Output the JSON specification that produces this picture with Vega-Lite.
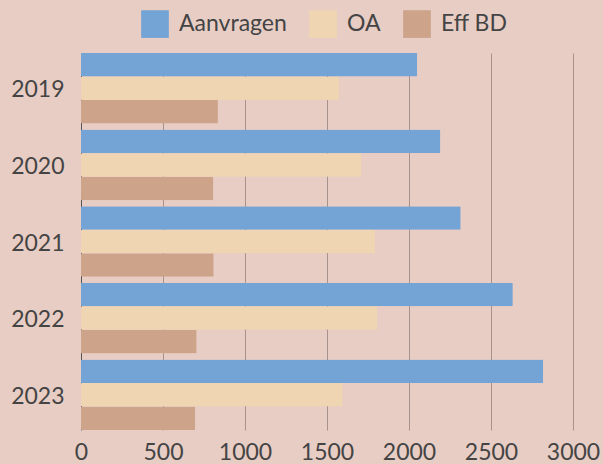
{
  "$schema": "https://vega.github.io/schema/vega-lite/v6.json",
  "width": 492,
  "height": 377,
  "autosize": {"type": "none"},
  "padding": {"left": 81, "top": 53, "right": 30, "bottom": 34},
  "background": "#e8cdc4",
  "config": {
    "view": {"stroke": null},
    "font": "Lato",
    "axis": {"labelFont": "Lato", "labelFontSize": 23, "labelColor": "#444444"},
    "legend": {"labelFont": "Lato"}
  },
  "data": {
    "values": [
      {"year": "2019", "series": "Aanvragen", "value": 2050},
      {"year": "2019", "series": "OA", "value": 1575},
      {"year": "2019", "series": "Eff BD", "value": 835},
      {"year": "2020", "series": "Aanvragen", "value": 2191},
      {"year": "2020", "series": "OA", "value": 1710},
      {"year": "2020", "series": "Eff BD", "value": 807},
      {"year": "2021", "series": "Aanvragen", "value": 2315},
      {"year": "2021", "series": "OA", "value": 1793},
      {"year": "2021", "series": "Eff BD", "value": 809},
      {"year": "2022", "series": "Aanvragen", "value": 2633},
      {"year": "2022", "series": "OA", "value": 1807},
      {"year": "2022", "series": "Eff BD", "value": 705},
      {"year": "2023", "series": "Aanvragen", "value": 2818},
      {"year": "2023", "series": "OA", "value": 1596},
      {"year": "2023", "series": "Eff BD", "value": 696}
    ]
  },
  "mark": {"type": "bar", "cornerRadius": 1},
  "encoding": {
    "y": {
      "field": "year",
      "type": "nominal",
      "scale": {"paddingInner": 0.078, "paddingOuter": 0},
      "axis": {"title": null, "ticks": false, "domain": false, "labelPadding": 17, "labelOffset": 2, "grid": false}
    },
    "yOffset": {
      "field": "series",
      "type": "nominal",
      "sort": ["Aanvragen", "OA", "Eff BD"],
      "scale": {"paddingInner": 0, "paddingOuter": 0}
    },
    "x": {
      "field": "value",
      "type": "quantitative",
      "scale": {"domain": [0, 3000], "nice": false},
      "axis": {
        "title": null,
        "values": [0, 500, 1000, 1500, 2000, 2500, 3000],
        "format": "d",
        "labelFlush": false,
        "labelOverlap": false,
        "ticks": false,
        "domain": false,
        "labelPadding": 11,
        "grid": true,
        "gridColor": {"condition": {"test": "datum.value === 0", "value": "#555555"}, "value": "#a8928d"},
        "gridWidth": 1,
        "gridOpacity": 1
      }
    },
    "color": {
      "field": "series",
      "type": "nominal",
      "scale": {"domain": ["Aanvragen", "OA", "Eff BD"], "range": ["#74a3d5", "#efd5b2", "#cda38a"]},
      "legend": {
        "title": null,
        "orient": "none",
        "direction": "horizontal",
        "legendX": 60,
        "legendY": -43,
        "padding": 0,
        "symbolType": "square",
        "symbolSize": 767,
        "symbolStrokeWidth": 0,
        "symbolOpacity": 1,
        "labelFontSize": 23,
        "labelColor": "#444444",
        "labelOffset": 10,
        "columnPadding": 22
      }
    }
  }
}
